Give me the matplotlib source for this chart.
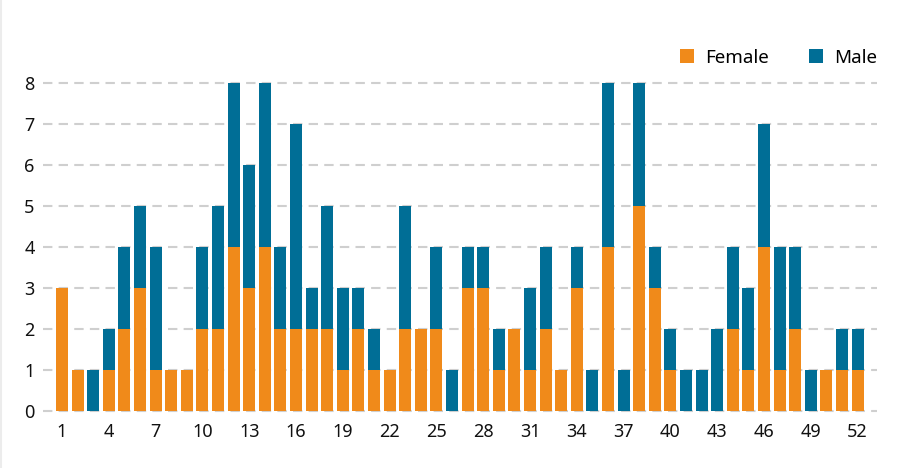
import matplotlib
matplotlib.use('Agg')

import numpy as np
import matplotlib.pyplot as plt
from matplotlib.patches import Patch
from matplotlib.lines import Line2D

# === Data (cases per week) ===
weeks = list(range(1, 53))
female = [3, 1, 0, 1, 2, 3, 1, 1, 1, 2, 2, 4, 3, 4, 2, 2, 2, 2, 1, 2,
          1, 1, 2, 2, 2, 0, 3, 3, 1, 2, 1, 2, 1, 3, 0, 4, 0, 5, 3, 1,
          0, 0, 0, 2, 1, 4, 1, 2, 0, 1, 1, 1]
male = [0, 0, 1, 1, 2, 2, 3, 0, 0, 2, 3, 4, 3, 4, 2, 5, 1, 3, 2, 1,
        1, 0, 3, 0, 2, 1, 1, 1, 1, 0, 2, 2, 0, 1, 1, 4, 1, 3, 1, 1,
        1, 1, 2, 2, 2, 3, 3, 2, 1, 0, 1, 1]
xtick_labels = list(range(1, 53, 3))
ytick_values = list(range(0, 9))

orange = '#F08A1A'
blue = '#006E96'

plt.rcParams['font.family'] = ['Noto Sans', 'DejaVu Sans']

# === Figure ===
fig = plt.figure(figsize=(9.09, 4.68), dpi=100)
ax = fig.add_axes([0.0473, 0.1174, 0.9175, 0.7096])

ax.bar(weeks, female, width=0.77, color=orange, zorder=2)
ax.bar(weeks, male, width=0.77, bottom=female, color=blue, zorder=2)

# dashed grid lines
for v in ytick_values:
    ax.axhline(v, color='#cfcfcf', lw=1.5, dashes=(4.5, 3), zorder=1)

ax.set_xlim(-0.22, 53.25)
ax.set_ylim(-0.05, 8.05)
ax.set_yticks(ytick_values)
ax.set_xticks(xtick_labels)
ax.tick_params(axis='both', length=0, labelsize=13, colors='#111111')
ax.tick_params(axis='x', pad=7)
ax.tick_params(axis='y', pad=6)
for s in ax.spines.values():
    s.set_visible(False)

# === Legend ===
handles = [Patch(facecolor=orange, label='Female'),
           Patch(facecolor=blue, label='Male')]
leg = fig.legend(handles=handles, ncol=2, loc='center right',
                 bbox_to_anchor=(0.975, 0.877), frameon=False,
                 fontsize=13.5, handlelength=0.75, handleheight=0.75,
                 handletextpad=0.6, columnspacing=2.1, borderpad=0)

# faint left border
fig.add_artist(Line2D([0.001, 0.001], [0, 1], color='#ececec', lw=1.5,
                      transform=fig.transFigure))

fig.savefig('out.png', dpi=100)
